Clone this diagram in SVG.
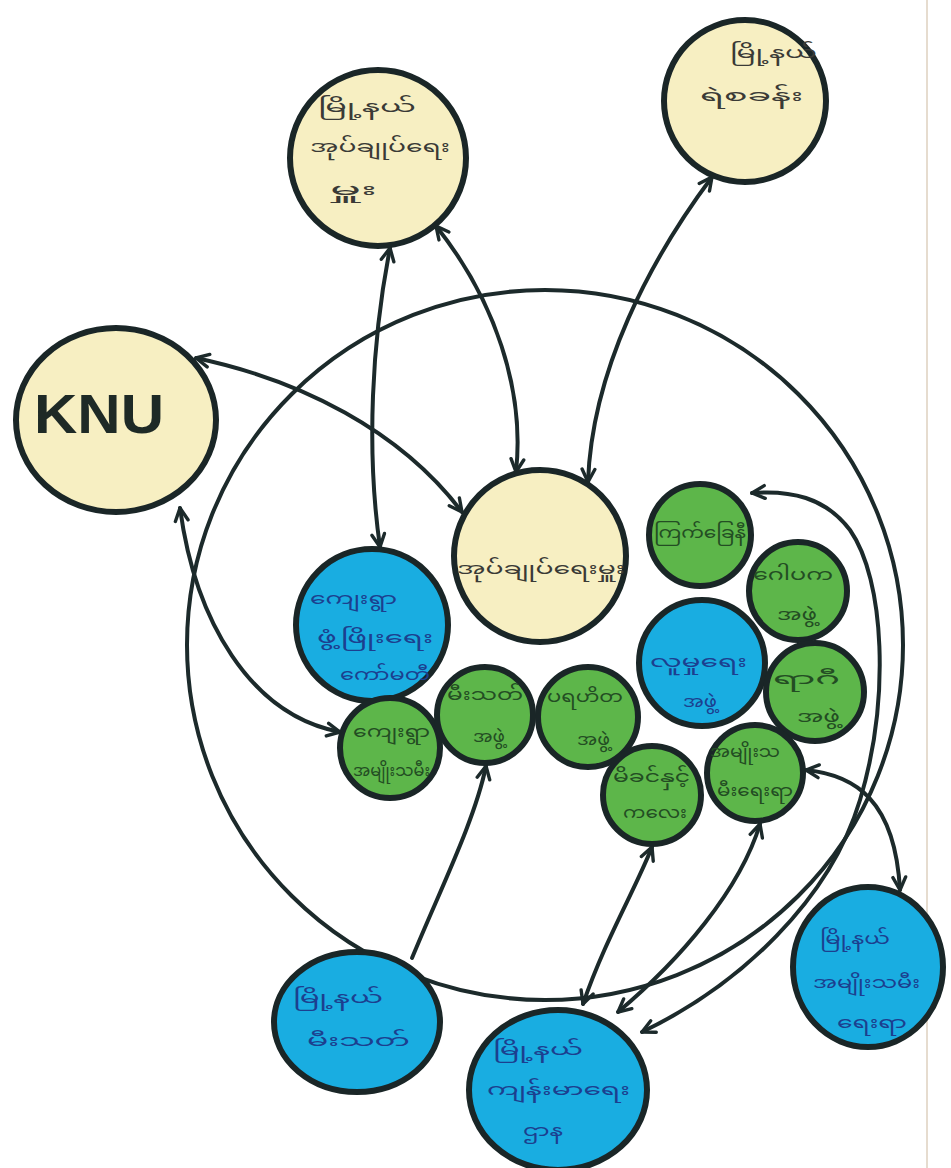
<svg xmlns="http://www.w3.org/2000/svg" width="951" height="1168" viewBox="0 0 951 1168">
<defs>
<style>
.bg{fill:#ffffff}
.edge{fill:none;stroke:#1c2a2b;stroke-width:4;stroke-linecap:round}
.ring{fill:none;stroke:#1c2a2b;stroke-width:4}
.n{stroke:#1a2627;stroke-width:6}
.y{fill:#f7efc2}
.b{fill:#19ade1}
.g{fill:#5db64a}
.t{font-family:'Noto Sans Myanmar','Padauk','Myanmar Text','Noto Sans','DejaVu Sans',sans-serif;font-size:16px}
.ty{fill:#3a3a36}
.tb{fill:#1c3f8f}
.tg{fill:#234d23}
.knu{font-family:'Liberation Sans','DejaVu Sans',sans-serif;font-weight:bold;font-size:56px;fill:#1e2a26}
</style>
<marker id="ah" viewBox="0 0 12 12" refX="10.5" refY="6" markerWidth="17" markerHeight="17" markerUnits="userSpaceOnUse" orient="auto-start-reverse">
<path d="M1.5,1.5 L10.5,6 L1.5,10.5" fill="none" stroke="#1c2a2b" stroke-width="2.4" stroke-linecap="round" stroke-linejoin="round"/>
</marker>
</defs>
<rect class="bg" x="0" y="0" width="951" height="1168"/>
<line x1="927" y1="0" x2="927" y2="1168" stroke="#e6dccf" stroke-width="2"/>

<g id="connectors">
<ellipse class="ring" cx="545" cy="645" rx="358" ry="355"/>
<path class="edge" d="M390,248 C372,340 366,450 380,547" marker-start="url(#ah)" marker-end="url(#ah)"/>
<path class="edge" d="M436,226 C495,300 525,390 516,472" marker-start="url(#ah)" marker-end="url(#ah)"/>
<path class="edge" d="M712,177 C650,260 592,370 588,482" marker-start="url(#ah)" marker-end="url(#ah)"/>
<path class="edge" d="M196,358 C300,380 400,430 462,512" marker-start="url(#ah)" marker-end="url(#ah)"/>
<path class="edge" d="M180,508 C195,620 250,715 340,732" marker-start="url(#ah)" marker-end="url(#ah)"/>
<path class="edge" d="M412,958 C440,890 475,820 486,766" marker-end="url(#ah)"/>
<path class="edge" d="M583,1004 C605,940 635,890 652,847" marker-start="url(#ah)" marker-end="url(#ah)"/>
<path class="edge" d="M618,1012 C680,960 740,890 760,824" marker-start="url(#ah)" marker-end="url(#ah)"/>
<path class="edge" d="M642,1032 C740,985 830,900 860,800 C890,700 885,580 850,530 C825,497 790,490 752,493" marker-start="url(#ah)" marker-end="url(#ah)"/>
<path class="edge" d="M806,770 C855,775 895,800 900,890" marker-start="url(#ah)" marker-end="url(#ah)"/>
</g>

<g id="node-township-admin">
<circle class="n y" cx="378" cy="158" r="88"/>
<text class="t ty" x="318" y="112" textLength="98" lengthAdjust="spacingAndGlyphs">မြို့နယ်</text>
<text class="t ty" x="310" y="152" textLength="140" lengthAdjust="spacingAndGlyphs">အုပ်ချုပ်ရေး</text>
<text class="t ty" x="330" y="195" textLength="47" lengthAdjust="spacingAndGlyphs">မှူး</text>
</g>

<g id="node-township-police">
<circle class="n y" cx="745" cy="101" r="81"/>
<text class="t ty" x="730" y="58" textLength="87" lengthAdjust="spacingAndGlyphs">မြို့နယ်</text>
<text class="t ty" x="700" y="101" textLength="103" lengthAdjust="spacingAndGlyphs">ရဲစခန်း</text>
</g>

<g id="node-knu">
<ellipse class="n y" cx="116" cy="420" rx="100" ry="92"/>
<text class="knu" x="34" y="433" textLength="130" lengthAdjust="spacingAndGlyphs">KNU</text>
</g>

<g id="node-village-admin">
<circle class="n y" cx="540" cy="556" r="86"/>
<text class="t ty" x="457" y="574" textLength="168" lengthAdjust="spacingAndGlyphs">အုပ်ချုပ်ရေးမှူး</text>
</g>

<g id="node-village-dev-committee">
<circle class="n b" cx="372" cy="625" r="76"/>
<text class="t tb" x="310" y="604" textLength="87" lengthAdjust="spacingAndGlyphs">ကျေးရွာ</text>
<text class="t tb" x="317" y="643" textLength="116" lengthAdjust="spacingAndGlyphs">ဖွံ့ဖြိုးရေး</text>
<text class="t tb" x="340" y="680" textLength="90" lengthAdjust="spacingAndGlyphs">ကော်မတီ</text>
</g>

<g id="node-village-women">
<circle class="n g" cx="390" cy="748" r="50"/>
<text class="t tg" x="353" y="737" textLength="77" lengthAdjust="spacingAndGlyphs">ကျေးရွာ</text>
<text class="t tg" x="353" y="776" textLength="77" lengthAdjust="spacingAndGlyphs">အမျိုးသမီး</text>
</g>

<g id="node-fire-group">
<circle class="n g" cx="485" cy="715" r="48"/>
<text class="t tg" x="447" y="700" textLength="76" lengthAdjust="spacingAndGlyphs">မီးသတ်</text>
<text class="t tg" x="473" y="742" textLength="32" lengthAdjust="spacingAndGlyphs">အဖွဲ့</text>
</g>

<g id="node-charity-group">
<circle class="n g" cx="588" cy="717" r="50"/>
<text class="t tg" x="547" y="702" textLength="76" lengthAdjust="spacingAndGlyphs">ပရဟိတ</text>
<text class="t tg" x="577" y="745" textLength="33" lengthAdjust="spacingAndGlyphs">အဖွဲ့</text>
</g>

<g id="node-red-cross">
<circle class="n g" cx="700" cy="535" r="51"/>
<text class="t tg" x="654" y="538" textLength="92" lengthAdjust="spacingAndGlyphs">ကြက်ခြေနီ</text>
</g>

<g id="node-gawpaka">
<circle class="n g" cx="798" cy="591" r="49"/>
<text class="t tg" x="753" y="580" textLength="80" lengthAdjust="spacingAndGlyphs">ဂေါပက</text>
<text class="t tg" x="777" y="620" textLength="40" lengthAdjust="spacingAndGlyphs">အဖွဲ့</text>
</g>

<g id="node-social-group">
<circle class="n b" cx="702" cy="663" r="63"/>
<text class="t tb" x="650" y="667" textLength="97" lengthAdjust="spacingAndGlyphs">လူမှုရေး</text>
<text class="t tb" x="683" y="707" textLength="34" lengthAdjust="spacingAndGlyphs">အဖွဲ့</text>
</g>

<g id="node-group-right">
<circle class="n g" cx="815" cy="692" r="49"/>
<text class="t tg" x="773" y="684" textLength="67" lengthAdjust="spacingAndGlyphs">ရာဂီ</text>
<text class="t tg" x="797" y="722" textLength="43" lengthAdjust="spacingAndGlyphs">အဖွဲ့</text>
</g>

<g id="node-mother-child">
<circle class="n g" cx="652" cy="795" r="49"/>
<text class="t tg" x="613" y="782" textLength="77" lengthAdjust="spacingAndGlyphs">မိခင်နှင့်</text>
<text class="t tg" x="623" y="818" textLength="64" lengthAdjust="spacingAndGlyphs">ကလေး</text>
</g>

<g id="node-women-affairs">
<circle class="n g" cx="755" cy="773" r="48"/>
<text class="t tg" x="710" y="757" textLength="70" lengthAdjust="spacingAndGlyphs">အမျိုးသ</text>
<text class="t tg" x="717" y="796" textLength="76" lengthAdjust="spacingAndGlyphs">မီးရေးရာ</text>
</g>

<g id="node-township-fire">
<ellipse class="n b" cx="357" cy="1022" rx="83" ry="70"/>
<text class="t tb" x="293" y="1003" textLength="90" lengthAdjust="spacingAndGlyphs">မြို့နယ်</text>
<text class="t tb" x="307" y="1046" textLength="103" lengthAdjust="spacingAndGlyphs">မီးသတ်</text>
</g>

<g id="node-township-health">
<ellipse class="n b" cx="558" cy="1090" rx="89" ry="80"/>
<text class="t tb" x="493" y="1055" textLength="90" lengthAdjust="spacingAndGlyphs">မြို့နယ်</text>
<text class="t tb" x="487" y="1095" textLength="143" lengthAdjust="spacingAndGlyphs">ကျန်းမာရေး</text>
<text class="t tb" x="523" y="1136" textLength="40" lengthAdjust="spacingAndGlyphs">ဌာန</text>
</g>

<g id="node-township-women">
<ellipse class="n b" cx="868" cy="967" rx="75" ry="80"/>
<text class="t tb" x="820" y="944" textLength="70" lengthAdjust="spacingAndGlyphs">မြို့နယ်</text>
<text class="t tb" x="813" y="988" textLength="107" lengthAdjust="spacingAndGlyphs">အမျိုးသမီး</text>
<text class="t tb" x="837" y="1028" textLength="70" lengthAdjust="spacingAndGlyphs">ရေးရာ</text>
</g>
</svg>
